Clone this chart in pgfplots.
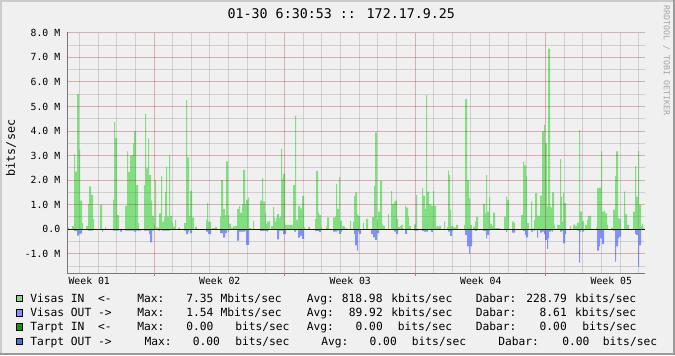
\documentclass[border=0pt]{standalone}
\usepackage{fontspec}
\setmainfont{DejaVu Sans Mono}
\usepackage{pgfplots}
\pgfplotsset{compat=1.18}
\definecolor{bgc}{RGB}{240,240,240}
\definecolor{shadea}{RGB}{203,203,203}
\definecolor{shadeb}{RGB}{153,153,153}
\definecolor{vin}{RGB}{128,224,128}
\definecolor{vout}{RGB}{128,144,255}
\definecolor{tin}{RGB}{0,160,0}
\definecolor{tout}{RGB}{80,112,208}
\definecolor{mgrid}{RGB}{150,30,30}
\definecolor{gridc}{RGB}{120,120,120}
\definecolor{axisc}{RGB}{120,120,120}
\definecolor{arrowc}{RGB}{127,0,0}
\definecolor{wm}{RGB}{165,165,165}
\newcommand{\legfont}{\fontsize{8.45}{10}\selectfont}
\newcommand{\tickfont}{\fontsize{7.35}{9}\selectfont}
\newcommand{\lgd}[3]{\node[anchor=base west,inner sep=0pt,font=\legfont] at (#1,#2) {#3};}
\pgfplotsset{set layers}
\begin{document}
\begin{tikzpicture}
\begin{scope}[x=0.75pt,y=0.75pt]
\useasboundingbox (0,0) rectangle (675,355);
\fill[bgc] (0,0) rectangle (675,355);
\fill[shadea] (0,353) rectangle (675,355);
\fill[shadea] (0,0) rectangle (2,355);
\fill[shadeb] (0,0) rectangle (675,2);
\fill[shadeb] (673,0) rectangle (675,355);
\end{scope}
\begin{axis}[
  at={(50.25pt,61.5pt)}, anchor=south west, scale only axis,
  width=433.5pt, height=180.2pt,
  xmin=67, xmax=645, ymin=-1.78, ymax=8.0,
  axis on top,
  axis background/.style={fill=white},
  axis line style={draw=none},
  tick style={draw=none}, minor tick length=0pt,
  xtick={154,284.5,415,545.5},
  xticklabels={},
  xtick pos=left, xtick align=outside,
  major tick length=2.6pt,
  major x tick style={draw=mgrid!60!white, line width=0.75pt},
  major y tick style={draw=none},
  extra x ticks={89.25,219.75,350.25,480.75,611.25},
  extra x tick labels={Week 01,Week 02,Week 03,Week 04,Week 05},
  extra x tick style={grid=none, major tick length=0pt, tick style={draw=none},
     xticklabel style={font=\tickfont, anchor=base, inner sep=0pt, yshift=-8.5pt}},
  minor xtick={79.43,98.07,116.71,135.36,172.64,191.29,209.93,228.57,247.21,265.86,303.14,321.79,340.43,359.07,377.71,396.36,433.64,452.29,470.93,489.57,508.21,526.86,564.14,582.79,601.43,620.07,638.71},
  ytick={-1,0,1,2,3,4,5,6,7,8},
  yticklabels={-1.0 M,0.0,1.0 M,2.0 M,3.0 M,4.0 M,5.0 M,6.0 M,7.0 M,8.0 M},
  yticklabel style={font=\tickfont, anchor=east, inner sep=0pt, xshift=-4.9pt},
  minor ytick={-1.5,-0.5,0.5,1.5,2.5,3.5,4.5,5.5,6.5,7.5},
  xmajorgrids=true, xminorgrids=true, ymajorgrids=true, yminorgrids=true,
  major grid style={draw=mgrid, draw opacity=0.3, line width=0.75pt},
  minor grid style={draw=gridc, draw opacity=0.27, line width=0.75pt},
]
\addplot[const plot, fill=vin, draw=none] coordinates {
(66,0.07)(69,0)(72,0.13)(74,3.05)(75,2.35)(77,5.5)(79,3.23)(80,1.17)(82,0.25)(83,0)(86,0.13)(88,1.03)(89,1.75)(91,1.4)(93,0.4)(94,0)(100,1.0)(102,0)(105,0.1)(106,0)(113,1.2)(114,4.37)(115,3.72)(117,0.58)(119,0)(125,0.95)(127,3.17)(128,2.34)(130,3.0)(133,3.5)(134,3.98)(136,1.8)(138,0.25)(139,0)
(144,1.8)(145,4.7)(146,2.48)(148,3.7)(149,2.2)(151,1.17)(152,0.55)(154,0.18)(155,2.0)(156,0.07)(159,0.65)(161,2.17)(162,0.31)(164,0.5)(165,1.53)(166,2.55)(167,0.52)(169,3.03)(170,0.55)(172,0.25)(173,0.11)(175,0.38)(176,0)(178,0.07)(180,0)(184,0.25)(186,5.27)(187,2.93)(189,0.55)(190,1.56)(192,0.48)(194,0)(195,0.1)(197,0)(206,0.38)(207,1.06)(208,0.31)
(210,0.31)(211,0)(212,0.05)(215,0.1)(217,0)(220,0.52)(221,2.0)(223,0.83)(225,0.58)(226,2.76)(228,0.58)(229,0.22)(231,0.07)(233,0.12)(235,0.13)(237,0.83)(239,0.95)(240,0.68)(242,1.02)(243,2.42)(245,1.0)(246,1.2)(248,1.29)(249,0.05)(251,0)(253,0.34)(254,0)(260,1.17)(262,2.08)(263,1.13)(265,0.65)(266,0.22)(267,0.31)(269,0.34)(270,0)(271,0.13)(273,0.9)(274,0.48)(275,0.31)(276,0.45)(277,0.62)(279,0.45)(280,0.52)(281,3.27)
(282,2.05)(283,2.25)(285,0.18)(293,1.8)(295,4.63)(296,0.38)(298,0.95)(300,0.85)(302,1.36)(304,0.1)(305,0)(308,0.1)(310,0)(315,0.42)(316,2.38)(318,0.68)(319,0.58)(321,0.1)(322,0)(326,0.12)(327,0.48)(329,0)(333,0.48)(335,0.52)(336,1.85)(337,0.83)(339,2.12)(340,0.34)(342,0.13)(343,0.12)(345,0.04)(347,0)(350,0.34)(351,0)(353,0.31)
(354,1.36)(355,1.5)(357,0.61)(358,0.55)(360,0)(363,0.27)(364,0)(366,0.42)(368,0)(372,0.49)(374,1.77)(375,3.94)(377,0.38)(378,0.72)(380,1.97)(382,0.2)(383,0.13)(385,0)(388,0.61)(389,0)(391,1.56)(392,1.03)(394,1.13)(395,1.17)(397,0.42)(398,0.1)(400,0.13)(401,0.18)(403,0)(405,0.95)(406,0.88)(408,0.52)(409,0.13)(411,0)(414,0.2)(416,1.4)(417,0)(422,1.67)(423,1.37)(425,0.83)
(426,5.45)(427,1.53)(429,1.0)(430,1.02)(431,0.95)(433,1.56)(434,0.95)(436,0.12)(439,0.13)(441,0)(444,0.31)(445,0)(447,0.1)(448,2.39)(449,2.2)(450,0.79)(451,0.13)(453,0.08)(456,0.18)(458,0)(464,0.18)(465,5.3)(467,2.0)(469,1.26)(470,0.18)(472,0)(473,0.1)(475,0.31)(476,0.52)(478,0)(483,1.03)(485,0.65)(486,2.2)(487,0.72)(489,1.29)(490,0.22)(492,0.13)(493,0.68)(495,0.05)
(498,0.05)(500,0)(504,0.52)(506,1.33)(507,1.2)(509,0)(512,0.31)(514,0.26)(515,0)(521,0.58)(523,2.76)(524,2.6)(526,2.15)(527,0.25)(529,0)(531,1.13)(532,0.04)(534,0.38)(535,1.47)(537,0.56)(538,0.55)(540,1.37)(542,3.98)(544,4.25)(545,3.5)(547,0.92)(548,7.35)(550,0.92)(551,0.88)(552,1.5)(554,0.18)(555,0)(557,0.18)(560,2.86)(561,1.33)(562,0.31)(563,1.47)(564,1.06)(566,0)
(570,0.13)(571,0)(573,0.19)(575,0.13)(577,0.27)(579,4.05)(580,0.72)(582,0.34)(584,0)(585,0.18)(587,0.38)(588,0.55)(591,0)(596,0.08)(597,1.67)(599,1.7)(601,3.17)(602,0.72)(604,0.75)(605,0.65)(607,0.18)(608,0)(611,0.07)(613,0.79)(615,2.17)(616,3.17)(618,0.45)(619,0.42)(621,0)(624,1.53)(625,0.62)(627,0.18)(629,0)(633,0.72)(635,2.58)(636,1.33)(638,3.19)(639,1.0)(641,0.13)(642,0.22)(643,0.07)(644,0)(645,0)
} \closedcycle;
\addplot[const plot, fill=vout, draw=none] coordinates {
(67,0)(74,-0.07)(77,-0.26)(79,-0.18)(82,0)(88,-0.05)(93,0)(102,-0.1)(103,0)(113,-0.05)(119,0)(120,-0.1)(122,0)(125,-0.05)(134,-0.1)(136,-0.05)(141,0)(144,-0.05)(149,-0.2)(150,-0.53)(152,-0.05)(154,0)(158,-0.05)(160,0)(162,-0.05)(170,0)(184,-0.05)(186,-0.2)(188,-0.1)(189,0)(190,-0.16)(192,0)(206,-0.1)(208,-0.2)(211,0)(220,-0.16)(223,-0.34)(225,-0.16)(227,0)(228,-0.1)(229,0)(237,-0.46)(239,-0.1)(245,-0.05)(246,-0.64)(249,0)(260,-0.07)(267,-0.1)(268,0)(277,-0.41)(279,-0.05)(283,-0.2)(286,0)(294,-0.1)(296,0)(298,-0.34)(300,-0.26)(302,-0.39)(304,0)(315,-0.07)(319,-0.12)(321,0)(333,-0.1)(337,-0.05)(339,-0.19)(341,-0.1)(342,0)(354,-0.2)(355,-0.66)(357,-0.87)(358,-0.1)(359,-0.19)(361,0)(371,-0.2)(373,-0.33)(375,-0.43)(377,-0.16)(379,0)(394,-0.1)(396,-0.19)(398,0)(405,-0.19)(407,0)(414,-0.05)(418,0)(422,-0.07)(424,-0.1)(428,0)(431,-0.12)(433,0)(448,-0.1)(450,-0.27)(452,-0.07)(453,0)(465,-0.23)(467,-0.7)(469,-0.98)(470,-0.7)(472,0)(475,-0.07)(477,0)(483,-0.07)(486,-0.37)(487,-0.23)(489,-0.05)(490,0)(506,-0.12)(507,0)(512,-0.14)(515,0)(523,-0.07)(525,-0.23)(526,-0.33)(528,0)(531,-0.1)(533,0)(534,-0.05)(535,0)(537,-0.34)(538,0)(540,-0.14)(542,-0.1)(544,-0.2)(545,-0.43)(547,-0.8)(548,-0.37)(549,-0.1)(551,-0.05)(552,-0.1)(553,0)(560,-0.1)(562,-0.05)(563,-0.57)(565,-0.2)(566,0)(577,-0.05)(579,-1.36)(580,-0.1)(581,0)(582,-0.1)(584,0)(597,-0.87)(599,-0.7)(600,-0.37)(602,-0.6)(604,0)(613,-0.05)(615,-1.32)(616,-0.7)(618,-0.37)(619,-0.3)(621,0)(635,-0.2)(636,-0.23)(638,-1.52)(639,-0.66)(641,0)(645,0)
} \closedcycle;
% zero line and axes
\draw[on layer=axis foreground, black, line width=1.1pt] ([xshift=-1.5pt]rel axis cs:0,0.1816) -- (rel axis cs:1,0.1816);
\draw[on layer=axis foreground, axisc, line width=0.75pt] ([yshift=-2.25pt]rel axis cs:0,0) -- ([yshift=1.5pt]rel axis cs:0,1);
\draw[on layer=axis foreground, axisc, line width=0.75pt] ([xshift=-0.75pt]rel axis cs:0,0) -- ([xshift=1.5pt]rel axis cs:1,0);
\fill[on layer=axis foreground, arrowc] ([xshift=-2.1pt,yshift=1.3pt]rel axis cs:0,1) -- ([xshift=2.1pt,yshift=1.3pt]rel axis cs:0,1) -- ([yshift=4.6pt]rel axis cs:0,1) -- cycle;
\fill[on layer=axis foreground, arrowc] ([xshift=1.3pt,yshift=-2.1pt]rel axis cs:1,0) -- ([xshift=1.3pt,yshift=2.1pt]rel axis cs:1,0) -- ([xshift=4.9pt]rel axis cs:1,0) -- cycle;
\end{axis}
\begin{scope}[x=0.75pt,y=0.75pt]
\node[anchor=base, inner sep=0pt, font=\fontsize{10}{12}\selectfont] at (341.3,336.7) {01-30 6:30:53 :: 172.17.9.25};
\node[rotate=90, inner sep=0pt, font=\fontsize{8.8}{10}\selectfont] at (11,207) {bits/sec};
\node[rotate=-90, inner sep=0pt, text=wm, font=\fontsize{6.2}{7}\selectfont] at (666.5,294.5) {RRDTOOL / TOBI OETIKER};
% legend boxes
\filldraw[fill=vin, draw=black, line width=0.75pt] (16,53.5) rectangle (22.5,60);
\filldraw[fill=vout, draw=black, line width=0.75pt] (16,39) rectangle (22.5,45.5);
\filldraw[fill=tin, draw=black, line width=0.75pt] (16,25) rectangle (22.5,31.5);
\filldraw[fill=tout, draw=black, line width=0.75pt] (16,10.5) rectangle (22.5,17);
% row 1
\lgd{30}{53}{Visas IN~~<-}\lgd{137}{53}{Max:}\lgd{186}{53}{7.35}\lgd{220.3}{53}{Mbits/sec}
\lgd{306.6}{53}{Avg:}\lgd{341.6}{53}{818.98}\lgd{391}{53}{kbits/sec}
\lgd{475.5}{53}{Dabar:}\lgd{526}{53}{228.79}\lgd{574.8}{53}{kbits/sec}
% row 2
\lgd{30}{38.5}{Visas OUT~->}\lgd{137}{38.5}{Max:}\lgd{186}{38.5}{1.54}\lgd{220.3}{38.5}{Mbits/sec}
\lgd{306.6}{38.5}{Avg:}\lgd{348.6}{38.5}{89.92}\lgd{391}{38.5}{kbits/sec}
\lgd{475.5}{38.5}{Dabar:}\lgd{539.4}{38.5}{8.61}\lgd{574.8}{38.5}{kbits/sec}
% row 3
\lgd{30}{24.5}{Tarpt IN~~<-}\lgd{137}{24.5}{Max:}\lgd{186}{24.5}{0.00}\lgd{235}{24.5}{bits/sec}
\lgd{306.6}{24.5}{Avg:}\lgd{355.4}{24.5}{0.00}\lgd{397.6}{24.5}{bits/sec}
\lgd{475.5}{24.5}{Dabar:}\lgd{539.4}{24.5}{0.00}\lgd{582}{24.5}{bits/sec}
% row 4
\lgd{30}{10}{Tarpt OUT~->}\lgd{144.3}{10}{Max:}\lgd{192.6}{10}{0.00}\lgd{235}{10}{bits/sec}
\lgd{321}{10}{Avg:}\lgd{369.4}{10}{0.00}\lgd{411.6}{10}{bits/sec}
\lgd{498}{10}{Dabar:}\lgd{562}{10}{0.00}\lgd{602.6}{10}{bits/sec}
\end{scope}
\end{tikzpicture}
\end{document}
